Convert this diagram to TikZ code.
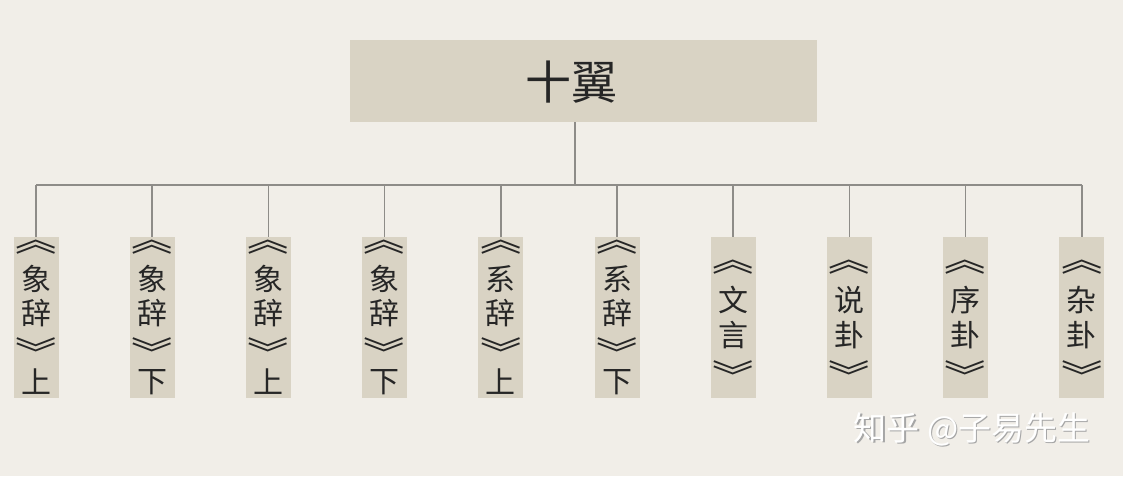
\documentclass[tikz,border=0pt]{standalone}
\usepackage{fontspec}
\newfontfamily\cjk{Noto Sans CJK SC}
\definecolor{bg}{HTML}{F1EEE8}
\definecolor{boxfill}{HTML}{D9D3C4}
\definecolor{linec}{HTML}{8E8C88}
\begin{document}
\begin{tikzpicture}[x=1pt,y=-1pt,
  wing/.style={fill=boxfill, minimum width=45pt, minimum height=161pt, inner sep=0pt},
  ch/.style={font=\cjk\fontsize{30}{30}\selectfont, text=black!85, inner sep=0pt},
  opn/.style={font=\cjk\fontsize{33}{33}\selectfont, text=black!85, inner sep=0pt, rotate=-90, anchor=east},
  cls/.style={font=\cjk\fontsize{33}{33}\selectfont, text=black!85, inner sep=0pt, rotate=-90, anchor=west},
  link/.style={draw=linec, line width=1.7pt}]
\fill[bg] (0,0) rectangle (1123,476);
\useasboundingbox (0,0) rectangle (1123,476);
% title
\node[fill=boxfill, minimum width=467pt, minimum height=82pt, inner sep=0pt] (top) at (583.5,81) {};
\node[font=\cjk\fontsize{46}{50}\selectfont, text=black!85] (toptext) at (571,82) {十翼};
\coordinate (stem) at (575,122);
\coordinate (bus) at (575,185);
% wings
\foreach \i in {1,...,10}{
  \node[wing] (w\i) at ({36+116.2*(\i-1)},317.5) {};
}
\foreach \i/\a/\b in {1/象/上,2/象/下,3/象/上,4/象/下,5/系/上,6/系/下}{
  \node[opn] (w\i-o) at (w\i.center |- 0,256) {\scalebox{1}[1.25]{《}};
  \node[ch] (w\i-a) at (w\i.center |- 0,279) {\a};
  \node[ch] (w\i-b) at (w\i.center |- 0,313) {辞};
  \node[cls] (w\i-c) at (w\i.center |- 0,336) {\scalebox{1}[1.25]{》}};
  \node[ch] (w\i-d) at (w\i.center |- 0,382) {\b};
}
\foreach \i/\a/\b in {7/文/言,8/说/卦,9/序/卦,10/杂/卦}{
  \node[opn] (w\i-o) at (w\i.center |- 0,276) {\scalebox{1}[1.25]{《}};
  \node[ch] (w\i-a) at (w\i.center |- 0,300) {\a};
  \node[ch] (w\i-b) at (w\i.center |- 0,335) {\b};
  \node[cls] (w\i-c) at (w\i.center |- 0,359) {\scalebox{1}[1.25]{》}};
}
\draw[link] (top.south -| stem) -- (stem |- bus);
\draw[link] (w1.north |- bus) -- (w10.north |- bus);
\foreach \i in {1,...,10}{
  \draw[link] (w\i.north |- bus) -- (w\i.north);
}
% watermark
\node[font=\cjk\fontsize{33}{33}\selectfont, text=black!35] (wmshadow) at (973.5,430.5) {知乎 @子易先生};
\node[font=\cjk\fontsize{33}{33}\selectfont, text=white] (wm) at (972,429) {知乎 @子易先生};
\end{tikzpicture}
\end{document}
